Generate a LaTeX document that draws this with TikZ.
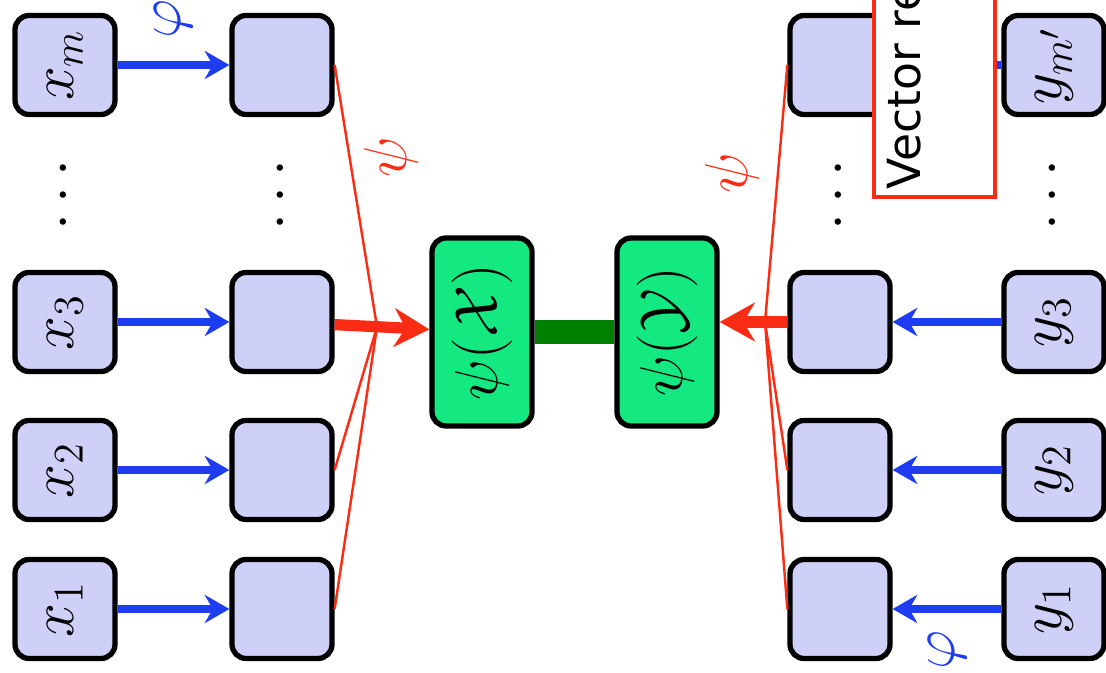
\documentclass[tikz,border=0pt]{standalone}
\usepackage{fontspec}
\newfontfamily\notefont{DejaVu Sans}
\usetikzlibrary{arrows.meta}

\definecolor{featfill}{RGB}{206,208,248}
\definecolor{psifill}{RGB}{20,232,128}
\definecolor{phiblue}{RGB}{30,60,240}
\definecolor{psired}{RGB}{250,45,20}
\definecolor{simgreen}{RGB}{0,128,0}

\newcommand{\up}[1]{\rotatebox{90}{#1}}

\begin{document}
\begin{tikzpicture}
    \useasboundingbox (0,0) rectangle (11.06,6.73);
    \clip (0,0) rectangle (11.06,6.73);
    % inputs, their images and the two outputs
    \begin{scope}
        \tikzstyle{every node}=[draw=black, line width=1.5pt, rounded corners=4pt, fill=featfill, minimum width=1cm, minimum height=0.99cm, inner sep=0pt, font=\LARGE]
        \node (x1) at (0.65,0.64) {\up{$x_1$}};
        \node (x2) at (0.65,2.03) {\up{$x_2$}};
        \node (x3) at (0.65,3.51) {\up{$x_3$}};
        \node (xm) at (0.65,6.08) {\up{$x_m$}};
        \node (px1) at (2.82,0.64) {};
        \node (px2) at (2.82,2.03) {};
        \node (px3) at (2.82,3.51) {};
        \node (pxm) at (2.82,6.08) {};
        \node (py1) at (8.40,0.64) {};
        \node (py2) at (8.40,2.03) {};
        \node (py3) at (8.40,3.51) {};
        \node (pym) at (8.40,6.08) {};
        \node (y1) at (10.54,0.64) {\up{$y_1$}};
        \node (y2) at (10.54,2.03) {\up{$y_2$}};
        \node (y3) at (10.54,3.51) {\up{$y_3$}};
        \node (ym) at (10.54,6.08) {\up{$y_{m'}$}};
    \end{scope}
    \begin{scope}
        \tikzstyle{every node}=[draw=black, line width=1.5pt, rounded corners=4pt, fill=psifill, minimum width=1cm, minimum height=1.88cm, inner sep=0pt, font=\LARGE]
        \node (psiX) at (4.82,3.41) {\up{$\psi(\mathcal{X})$}};
        \node (psiY) at (6.67,3.41) {\up{$\psi(\mathcal{Y})$}};
    \end{scope}
    \draw[line width=7pt, simgreen] (psiX) -- (psiY);
    % dots between rows 3 and m
    \begin{scope}
        \tikzstyle{every node}=[font=\LARGE, inner sep=0pt]
        \node (dx) at (0.65,4.78) {\up{$\cdots$}};
        \node (dpx) at (2.82,4.78) {\up{$\cdots$}};
        \node (dpy) at (8.40,4.78) {\up{$\cdots$}};
        \node (dy) at (10.54,4.78) {\up{$\cdots$}};
    \end{scope}
    % phi maps
    \begin{scope}
        \tikzstyle{every edge}=[draw, line width=2.2pt, phiblue, -{Stealth[length=7pt,width=8pt]}]
        \path
        (x1) edge (px1)
        (x2) edge (px2)
        (x3) edge (px3)
        (xm) edge node[above=6.5pt, inner sep=0pt, text=phiblue, font=\LARGE] (phix) {\up{$\varphi$}} (pxm)
        (y1) edge node[below=5pt, inner sep=0pt, text=phiblue, font=\LARGE] (phiy) {\up{$\varphi$}} (py1)
        (y2) edge (py2)
        (y3) edge (py3)
        (ym) edge (pym)
        ;
    \end{scope}
    % psi pooling
    \begin{scope}
        \coordinate (jx) at (3.77,3.46);
        \coordinate (jy) at (7.65,3.51);
        \tikzstyle{every edge}=[draw, line width=0.7pt, psired]
        \path
        (px1.east) edge (jx)
        (px2.east) edge (jx)
        (pxm.east) edge node[pos=0.35, right, inner sep=4pt, text=psired, font=\LARGE] (psix) {\up{$\psi$}} (jx)
        (py1.west) edge (jy)
        (py2.west) edge (jy)
        (pym.west) edge node[pos=0.42, left, inner sep=5pt, text=psired, font=\LARGE] (psiy) {\up{$\psi$}} (jy)
        (px3) edge[line width=3.2pt, -{Stealth[length=10pt,width=11pt]}] (psiX)
        (py3.west) edge[line width=3.2pt, -{Stealth[length=10pt,width=11pt]}] (psiY.east |- py3.west)
        ;
    \end{scope}
    % note box
    \node[draw=psired, line width=1.2pt, fill=white, minimum width=1.21cm, minimum height=2.5cm, anchor=south west, inner sep=0pt] (notebox) at (8.72,4.74) {};
    \node[rotate=90, anchor=base west, inner sep=0pt, font=\fontsize{13}{15}\notefont] (note) at (9.20,4.83) {Vector rep};
\end{tikzpicture}
\end{document}
